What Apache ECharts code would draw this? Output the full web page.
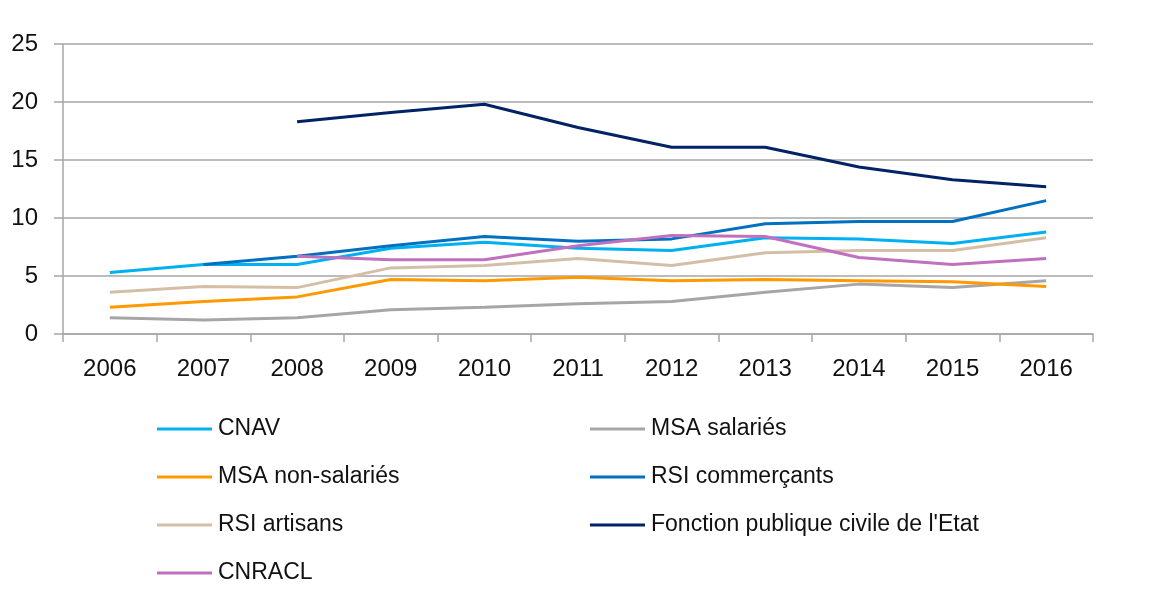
<!DOCTYPE html>
<html>
<head>
<meta charset="utf-8">
<script src="https://cdn.jsdelivr.net/npm/echarts@6/dist/echarts.min.js"></script>
<style>
html,body{margin:0;padding:0;background:#fff;}
#chart{width:1156px;height:601px;}
</style>
</head>
<body>
<div id="chart"></div>
<script>
const years = ['2006','2007','2008','2009','2010','2011','2012','2013','2014','2015','2016'];
const yTicks = [0, 5, 10, 15, 20, 25];

const cnav            = [5.3, 6.0, 6.0, 7.4, 7.9, 7.4, 7.2, 8.3, 8.2, 7.8, 8.8];
const msaSalaries     = [1.4, 1.2, 1.4, 2.1, 2.3, 2.6, 2.8, 3.6, 4.3, 4.0, 4.6];
const msaNonSalaries  = [2.3, 2.8, 3.2, 4.7, 4.6, 4.9, 4.6, 4.7, 4.6, 4.5, 4.1];
const rsiCommercants  = [null, 6.0, 6.7, 7.6, 8.4, 8.0, 8.2, 9.5, 9.7, 9.7, 11.5];
const rsiArtisans     = [3.6, 4.1, 4.0, 5.7, 5.9, 6.5, 5.9, 7.0, 7.2, 7.2, 8.3];
const fonctionPublique= [null, null, 18.3, 19.1, 19.8, 17.8, 16.1, 16.1, 14.4, 13.3, 12.7];
const cnracl          = [null, null, 6.7, 6.4, 6.4, 7.6, 8.5, 8.4, 6.6, 6.0, 6.5];

const seriesDefs = [
  {name:'CNAV', data:cnav, color:'#00B0F0'},
  {name:'MSA salariés', data:msaSalaries, color:'#A6A6A6'},
  {name:'MSA non-salariés', data:msaNonSalaries, color:'#FF9900'},
  {name:'RSI commerçants', data:rsiCommercants, color:'#0070C0'},
  {name:'RSI artisans', data:rsiArtisans, color:'#D4BFA6'},
  {name:"Fonction publique civile de l'Etat", data:fonctionPublique, color:'#002366'},
  {name:'CNRACL', data:cnracl, color:'#C070BD'}
];

const font = '"Liberation Sans", Arial, sans-serif';
const legendCommon = {
  orient:'vertical',
  icon:'rect',
  itemWidth:55,
  itemHeight:3,
  itemGap:24,
  top:412,
  textStyle:{fontFamily:font, fontSize:23, color:'#111', lineHeight:24, padding:[0,0,0,1]},
  selectedMode:false
};

const chart = echarts.init(document.getElementById('chart'), null, {renderer:'canvas'});
chart.setOption({
  animation:false,
  backgroundColor:'#fff',
  grid:{left:63, right:63, top:44, bottom:267, containLabel:false},
  legend:[
    Object.assign({}, legendCommon, {left:152, data:['CNAV','MSA non-salariés','RSI artisans','CNRACL']}),
    Object.assign({}, legendCommon, {left:585, data:['MSA salariés','RSI commerçants',"Fonction publique civile de l'Etat"]})
  ],
  xAxis:{
    type:'category',
    data:years,
    boundaryGap:true,
    axisLine:{lineStyle:{color:'#A6A6A6', width:1.5}},
    axisTick:{show:true, length:8, lineStyle:{color:'#A6A6A6', width:1.5}},
    axisLabel:{fontFamily:font, fontSize:24, color:'#111', margin:23}
  },
  yAxis:{
    type:'value',
    min:yTicks[0],
    max:yTicks[yTicks.length-1],
    interval:5,
    axisLine:{show:true, lineStyle:{color:'#A6A6A6', width:1.5}},
    axisTick:{show:true, length:9, lineStyle:{color:'#A6A6A6', width:1.5}},
    splitLine:{lineStyle:{color:'#A6A6A6', width:1.5}},
    axisLabel:{fontFamily:font, fontSize:24, color:'#111', margin:25}
  },
  series: seriesDefs.map(s => ({
    name:s.name,
    type:'line',
    data:s.data,
    symbol:'none',
    showSymbol:false,
    connectNulls:false,
    itemStyle:{color:s.color},
    lineStyle:{color:s.color, width:3}
  }))
});
</script>
</body>
</html>
